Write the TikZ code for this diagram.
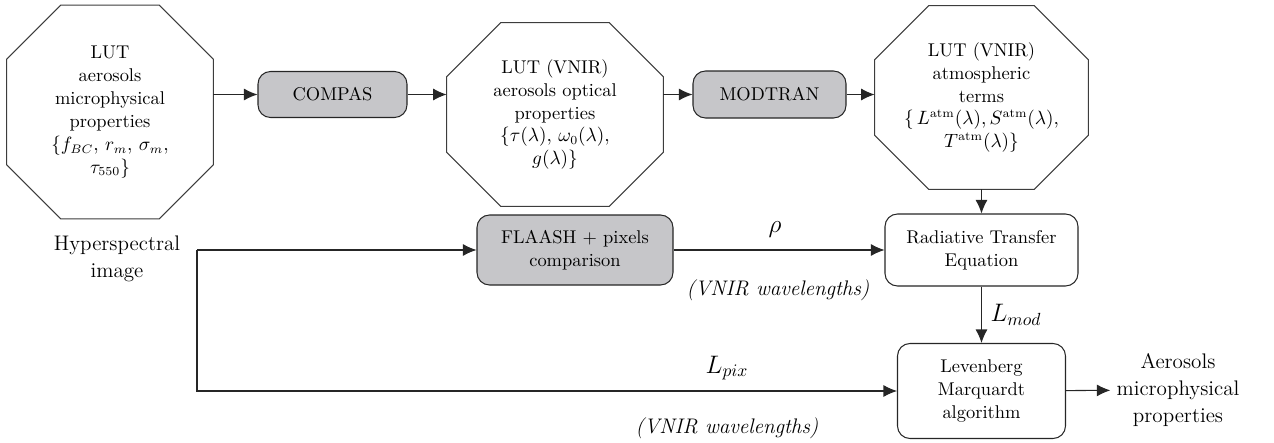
\documentclass[tikz,border=0pt]{standalone}
\usepackage{amsmath}
\usetikzlibrary{calc,arrows.meta}

\definecolor{boxgray}{RGB}{198,198,201}
\definecolor{linegray}{RGB}{60,60,60}

\tikzset{
  octbox/.style={rectangle,align=center,inner sep=0pt,font=\fontsize{10.5}{13}\selectfont},
  octline/.style={draw=linegray,line width=0.6pt},
  procbox/.style={rectangle,rounded corners=2.5mm,draw=black!85,line width=0.6pt,fill=boxgray,
    align=center,inner sep=0pt,font=\fontsize{10.5}{13}\selectfont},
  eqbox/.style={procbox,fill=white},
  outtext/.style={align=center,font=\fontsize{12}{15.5}\selectfont},
  wavelab/.style={font=\fontsize{12}{15}\selectfont\itshape},
  flow/.style={-{Latex[length=2.7mm,width=2.4mm]},line width=0.6pt,draw=black!85}
}

\begin{document}
\begin{tikzpicture}
    \useasboundingbox (0,0) rectangle (25.48,-8.86);
    % look up tables
    \node[octbox,minimum width=4.12cm,minimum height=4.26cm] (lutmicro) at (2.2,-2.24)
      {LUT\\aerosols\\microphysical\\properties\\$\{f_{BC},\, r_m,\, \sigma_m,$\\$\tau_{550}\}$};
    \node[octbox,minimum width=4.32cm,minimum height=3.66cm] (lutoptic) at (11.1,-2.29)
      {LUT (VNIR)\\aerosols optical\\properties\\$\{\tau(\lambda),\, \omega_0(\lambda),$\\$g(\lambda)\}$};
    \node[octbox,minimum width=4.26cm,minimum height=3.66cm] (lutatm) at (19.63,-1.95)
      {LUT (VNIR)\\atmospheric\\terms\\$\{\, L^{\mathrm{atm}}(\lambda), S^{\mathrm{atm}}(\lambda),$\\$T^{\mathrm{atm}}(\lambda)\}$};
    \foreach \oct in {lutmicro,lutoptic,lutatm}
      \draw[octline] ($(\oct.north west)+(1.08,0)$) -- ($(\oct.north east)+(-1.08,0)$)
        -- ($(\oct.north east)+(0,-1.08)$) -- ($(\oct.south east)+(0,1.08)$)
        -- ($(\oct.south east)+(-1.08,0)$) -- ($(\oct.south west)+(1.08,0)$)
        -- ($(\oct.south west)+(0,1.08)$) -- ($(\oct.north west)+(0,-1.08)$) -- cycle;
    % codes
    \node[procbox,minimum width=2.98cm,minimum height=0.92cm] (compas) at (6.65,-1.89) {COMPAS};
    \node[procbox,minimum width=3.06cm,minimum height=0.94cm] (modtran) at (15.39,-1.89) {MODTRAN};
    \node[procbox,minimum width=3.92cm,minimum height=1.4cm] (flaash) at (11.5,-5.0) {FLAASH + pixels\\comparison};
    \node[eqbox,minimum width=3.86cm,minimum height=1.44cm] (rte) at (19.63,-5.0) {Radiative Transfer\\Equation};
    \node[eqbox,minimum width=3.36cm,minimum height=1.9cm] (levmar) at (19.63,-7.82) {Levenberg\\Marquardt\\algorithm};
    % input and output
    \node[outtext] (hyper) at (2.34,-5.18) {Hyperspectral\\image};
    \node[outtext] (aeromicro) at (23.56,-7.8) {Aerosols\\microphysical\\properties};
    \coordinate (split) at (3.94,-5.0);
    % connectors
    \draw[flow] (lutmicro.east |- compas) -- (compas);
    \draw[flow] (compas) -- (compas -| lutoptic.west);
    \draw[flow] (lutoptic.east |- modtran) -- (modtran);
    \draw[flow] (modtran) -- (modtran -| lutatm.west);
    \draw[flow] (lutatm.south) -- (rte.north);
    \draw[flow] (split) -- (flaash);
    \draw[flow] (flaash) -- (rte);
    \draw[flow] (split) |- (levmar);
    \draw[flow] (rte) -- (levmar);
    \draw[flow] (levmar) -- (aeromicro);
    % labels
    \node[font=\fontsize{14}{16}\selectfont] (rholab) at (15.5,-4.6) {$\rho$};
    \node[wavelab] (vnirtop) at (15.56,-5.8) {(VNIR wavelengths)};
    \node[font=\fontsize{14}{16}\selectfont] (lpixlab) at (14.54,-7.36) {$L_{pix}$};
    \node[wavelab] (vnirbot) at (14.54,-8.56) {(VNIR wavelengths)};
    \node[font=\fontsize{14}{16}\selectfont] (lmodlab) at (20.32,-6.3) {$L_{mod}$};
\end{tikzpicture}
\end{document}
